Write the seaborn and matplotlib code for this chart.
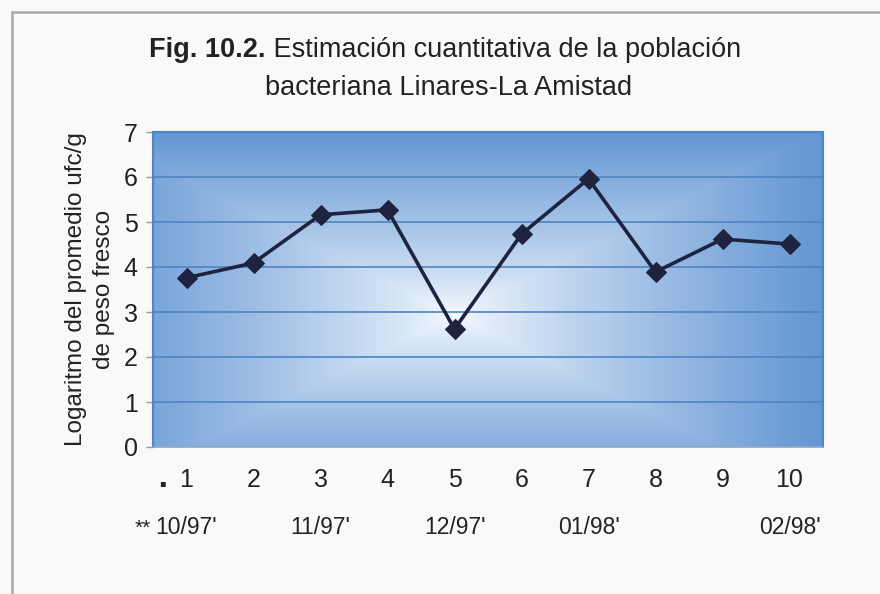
import numpy as np
import pandas as pd
import matplotlib
matplotlib.use("Agg")
import matplotlib.pyplot as plt
import seaborn as sns
from matplotlib.patches import Rectangle

# ---- data ----
muestras = [1, 2, 3, 4, 5, 6, 7, 8, 9, 10]
log_ufc = [3.76, 4.09, 5.16, 5.27, 2.62, 4.73, 5.96, 3.89, 4.62, 4.51]
meses = ["10/97'", "11/97'", "12/97'", "01/98'", "02/98'"]
meses_pos = [1, 3, 5, 7, 10]
yticks = [0, 1, 2, 3, 4, 5, 6, 7]

df = pd.DataFrame({"muestra": muestras, "log": log_ufc})

sns.set_theme(style="white")
plt.rcParams["font.family"] = ["Liberation Sans", "DejaVu Sans"]

fig = plt.figure(figsize=(8.8, 5.94), dpi=100)
fig.patch.set_facecolor("#f9f9f9")

# outer frame
fig.patches.append(Rectangle((12 / 880, -0.05), 1.1, 1 - 12 / 594 + 0.05,
                             transform=fig.transFigure, fill=False,
                             edgecolor="#a8a8a8", linewidth=1.8))

ax = fig.add_axes([153 / 880, 1 - 447 / 594, (823 - 153) / 880, (447 - 132) / 594])

# rectangular "from center" gradient background
nx, ny = 400, 200
xs = np.linspace(0, 1, nx)
ys = np.linspace(0, 1, ny)
X, Y = np.meshgrid(xs, ys)
cx, cy = 0.45, 0.42
t = np.maximum(np.abs(X - cx) / 0.58, np.abs(Y - cy) / 0.62)
t = np.clip(t, 0, 1) ** 0.85
c0 = np.array([0.96, 0.98, 1.0])
c1 = np.array([0.36, 0.57, 0.82])
img = c0[None, None, :] * (1 - t[..., None]) + c1[None, None, :] * t[..., None]
ax.imshow(img, extent=[0.5, 10.5, 0, 7], origin="lower", aspect="auto", zorder=0)

for yv in yticks[1:-1]:
    ax.axhline(yv, color="#4f84c0", linewidth=1.2, zorder=1)

sns.lineplot(data=df, x="muestra", y="log", ax=ax, color="#1e2440",
             linewidth=2.6, marker="D", markersize=10, markeredgecolor="#1e2440",
             zorder=3)

ax.set_xlim(0.5, 10.5)
ax.set_ylim(0, 7)
ax.set_yticks(yticks)
ax.set_xticks(muestras)
ax.set_xticklabels([str(m) for m in muestras])
ax.set_xticks(np.arange(0.5, 11, 1), minor=True)
ax.tick_params(axis="x", which="major", length=0, pad=15, labelsize=18, labelcolor="#222222")
ax.tick_params(axis="x", which="minor", length=5, width=1, color="#9a9a9a", direction="out")
ax.tick_params(axis="y", which="major", length=5, width=1, color="#9a9a9a", pad=6,
               labelsize=18, labelcolor="#222222", left=True)
ax.set_xlabel("")
ax.set_ylabel("Logaritmo del promedio ufc/g\nde peso fresco", fontsize=17.5,
              color="#222222", linespacing=1.4, labelpad=6)

for side in ["left", "top", "right"]:
    ax.spines[side].set_color("#4a86c8")
    ax.spines[side].set_linewidth(1.5)
ax.spines["bottom"].set_color("#8fa8c4")
ax.spines["bottom"].set_linewidth(1.2)

# second row of labels (months)
tr = matplotlib.transforms.blended_transform_factory(ax.transData, ax.transAxes)
for p, m in zip(meses_pos, meses):
    ax.text(p, -0.257, m, transform=tr, ha="center", va="center", fontsize=16.5,
            color="#222222")
ax.text(0.34, -0.257, "**", transform=tr, ha="center", va="center", fontsize=15,
        color="#222222")
ax.text(0.64, -0.113, "▪", transform=tr, ha="center", va="center", fontsize=7,
        color="#222222", family="DejaVu Sans")

# title with bold prefix
fig.canvas.draw()
r = fig.canvas.get_renderer()
tb = fig.text(0, 0, "Fig. 10.2.", fontsize=19.5, fontweight="bold", color="#222222")
tn = fig.text(0, 0, " Estimación cuantitativa de la población", fontsize=19.5, color="#222222")
wb = tb.get_window_extent(r).width
wn = tn.get_window_extent(r).width
x0 = 445 - (wb + wn) / 2
y1 = 1 - 50 / 594
tb.set_position((x0 / 880, y1)); tb.set_va("center")
tn.set_position(((x0 + wb) / 880, y1)); tn.set_va("center")
fig.text(449 / 880, 1 - 88 / 594, "bacteriana Linares-La Amistad", fontsize=19.5,
         color="#222222", ha="center", va="center")

fig.savefig("out.png", dpi=100, facecolor=fig.get_facecolor())
